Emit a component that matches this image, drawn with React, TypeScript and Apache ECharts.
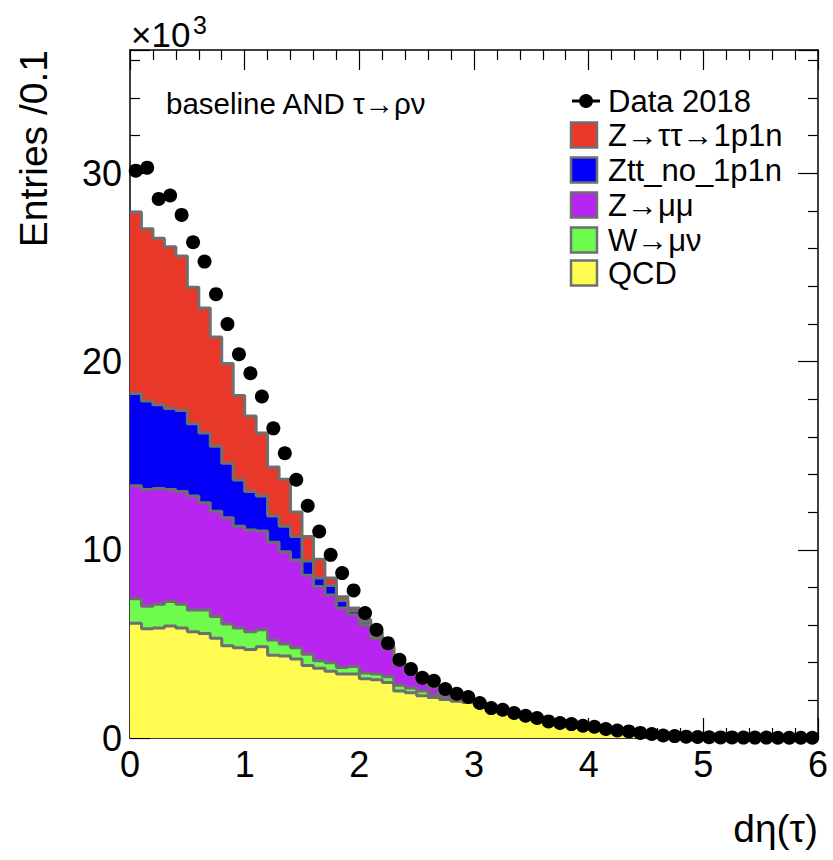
import React, { useEffect, useRef } from "react";
import * as echarts from "echarts";

// ---------- data (values in thousands of entries, 60 bins of width 0.1) ----------
const BIN_WIDTH = 0.1;
const N_BINS = 60;
const xTickLabels = ["0", "1", "2", "3", "4", "5", "6"];
const yTickLabels = ["0", "10", "20", "30"];

const data2018 = [
  30.14, 30.3, 28.64, 28.82, 27.79, 26.34, 25.31, 23.58, 21.99, 20.39,
  19.38, 18.14, 16.45, 15.13, 13.72, 12.34, 10.97, 9.73, 8.76, 7.84,
  6.64, 5.75, 5.04, 4.16, 3.66, 3.2, 3.04, 2.6, 2.35, 2.18,
  1.86, 1.59, 1.5, 1.33, 1.18, 1.06, 0.88, 0.8, 0.74, 0.65,
  0.6, 0.48, 0.4, 0.35, 0.27, 0.21, 0.13, 0.1, 0.07, 0.05,
  0.04, 0.03, 0.03, 0.02, 0.02, 0.02, 0.01, 0.01, 0.01, 0.01,
];

const qcd = [
  6.1, 5.8, 5.85, 5.95, 5.85, 5.65, 5.55, 5.3, 4.9, 4.8,
  4.7, 4.85, 4.4, 4.35, 4.2, 3.85, 3.7, 3.55, 3.4, 3.4,
  3.15, 3.1, 2.95, 2.5, 2.4, 2.25, 2.15, 2.05, 1.95, 1.88,
  1.8, 1.55, 1.42, 1.27, 1.12, 1.0, 0.85, 0.76, 0.68, 0.58,
  0.52, 0.4, 0.33, 0.25, 0.18, 0.11, 0.07, 0.04, 0.03, 0.02,
  0.01, 0.01, 0.01, 0, 0, 0, 0, 0, 0, 0,
];

const wmunu = [
  1.3, 1.2, 1.25, 1.3, 1.25, 1.15, 1.25, 1.15, 1.15, 1.05,
  0.95, 0.9, 0.8, 0.65, 0.6, 0.6, 0.4, 0.45, 0.35, 0.4,
  0.3, 0.3, 0.3, 0.3, 0.25, 0.25, 0.15, 0.1, 0.1, 0.07,
  0.05, 0.04, 0.03, 0.03, 0.03, 0.02, 0.02, 0.02, 0.02, 0.01,
  0.01, 0.01, 0.01, 0, 0, 0, 0, 0, 0, 0,
  0, 0, 0, 0, 0, 0, 0, 0, 0, 0,
];

const zmumu = [
  6.0, 6.2, 6.15, 5.95, 6.0, 6.05, 5.7, 5.6, 5.65, 5.4,
  5.4, 5.25, 5.2, 4.9, 4.65, 4.2, 3.95, 3.6, 3.15, 2.75,
  2.55, 1.9, 1.55, 1.1, 0.8, 0.5, 0.4, 0.27, 0.15, 0.1,
  0.05, 0.04, 0.03, 0.03, 0.02, 0.02, 0.02, 0.01, 0.01, 0,
  0, 0, 0, 0, 0, 0, 0, 0, 0, 0,
  0, 0, 0, 0, 0, 0, 0, 0, 0, 0,
];

const zttNo1p1n = [
  4.9, 4.7, 4.45, 4.3, 4.3, 3.85, 3.7, 3.45, 2.9, 2.45,
  2.05, 1.85, 1.4, 1.35, 1.25, 0.75, 0.45, 0.5, 0.4, 0.2,
  0.15, 0.1, 0.05, 0.05, 0.05, 0.02, 0.02, 0.01, 0.01, 0.01,
  0.01, 0.01, 0, 0, 0, 0, 0, 0, 0, 0,
  0, 0, 0, 0, 0, 0, 0, 0, 0, 0,
  0, 0, 0, 0, 0, 0, 0, 0, 0, 0,
];

const ztt1p1n = [
  9.65, 9.15, 8.85, 8.6, 8.2, 7.25, 6.65, 5.8, 5.3, 4.5,
  4.0, 3.35, 2.6, 2.5, 1.3, 1.3, 1.0, 0.4, 0.2, 0.15,
  0.15, 0.2, 0.05, 0.05, 0.05, 0.03, 0.03, 0.02, 0.01, 0.01,
  0.01, 0.01, 0, 0, 0, 0, 0, 0, 0, 0,
  0, 0, 0, 0, 0, 0, 0, 0, 0, 0,
  0, 0, 0, 0, 0, 0, 0, 0, 0, 0,
];

const processNames = ["QCD", "W\u2192\u03bc\u03bd", "Z\u2192\u03bc\u03bc", "Ztt_no_1p1n", "Z\u2192\u03c4\u03c4\u21921p1n"];
const processValues = [qcd, wmunu, zmumu, zttNo1p1n, ztt1p1n];
const processColors = ["#fffb50", "#6efb4e", "#b925f0", "#0400f8", "#e8382a"];
const legendOrder = [4, 3, 2, 1, 0];

const FONT = "Liberation Sans, Arial, Helvetica, sans-serif";
const OUTLINE = "#6f6f6f";

export default function App() {
  const ref = useRef<HTMLDivElement>(null);

  useEffect(() => {
    if (!ref.current) return;
    const chart = echarts.init(ref.current, null, { renderer: "svg" });

    const edges = Array.from({ length: N_BINS + 1 }, (_, i) => +(i * BIN_WIDTH).toFixed(2));

    // cumulative stacks (THStack style: each drawn from zero, top-most first)
    const cumulative: number[][] = [];
    processValues.forEach((vals, p) => {
      cumulative.push(vals.map((v, i) => +(v + (p > 0 ? cumulative[p - 1][i] : 0)).toFixed(3)));
    });

    const stepData = (vals: number[]) => [
      ...vals.map((v, i) => [edges[i], v]),
      [edges[N_BINS], vals[N_BINS - 1]],
    ];

    const stackSeries = [4, 3, 2, 1, 0].map((p) => ({
      name: processNames[p],
      type: "line",
      step: "end",
      data: stepData(cumulative[p]),
      symbol: "none",
      showSymbol: false,
      silent: true,
      z: 2,
      lineStyle: { color: OUTLINE, width: 3 },
      areaStyle: { color: processColors[p], opacity: 1, origin: "start" },
    }));

    const dataSeries = {
      name: "Data 2018",
      type: "scatter",
      data: data2018.map((v, i) => [+((i + 0.5) * BIN_WIDTH).toFixed(3), v]),
      symbol: "circle",
      symbolSize: 14,
      itemStyle: { color: "#000", opacity: 1 },
      clip: false,
      z: 5,
      silent: true,
    };

    const axisCommon = {
      type: "value",
      axisLine: { show: true, onZero: false, lineStyle: { color: "#000", width: 1.5 } },
      axisTick: { show: true, inside: true, length: 20, lineStyle: { color: "#000", width: 1.2 } },
      minorTick: { show: true, splitNumber: 5, length: 10, lineStyle: { color: "#000", width: 1.2 } },
      splitLine: { show: false },
      minorSplitLine: { show: false },
    };

    const xLabelFmt = (v: number) => {
      const idx = Math.round(v);
      return Math.abs(v - idx) < 1e-6 && xTickLabels[idx] !== undefined ? xTickLabels[idx] : "";
    };
    const yLabelFmt = (v: number) => {
      const idx = Math.round(v / 10);
      return Math.abs(v - idx * 10) < 1e-6 && yTickLabels[idx] !== undefined ? yTickLabels[idx] : "";
    };

    const textStyle = (text: string, fontSize: number, align: string, vAlign: string) => ({
      text,
      fontSize,
      fontFamily: FONT,
      fill: "#000",
      align,
      verticalAlign: vAlign,
      textAlign: align,
      textVerticalAlign: vAlign,
    });

    const legendRowsY = [101, 135, 170, 205, 240, 273];
    const legendGraphics: any[] = [
      {
        type: "line",
        shape: { x1: 572, y1: legendRowsY[0], x2: 600, y2: legendRowsY[0] },
        style: { stroke: "#000", lineWidth: 3 },
        silent: true,
      },
      {
        type: "circle",
        shape: { cx: 586, cy: legendRowsY[0], r: 7 },
        style: { fill: "#000" },
        silent: true,
      },
      {
        type: "text",
        x: 608,
        y: legendRowsY[0],
        style: textStyle("Data 2018", 31, "left", "middle"),
        silent: true,
      },
    ];
    legendOrder.forEach((p, k) => {
      const cy = legendRowsY[k + 1];
      legendGraphics.push({
        type: "rect",
        shape: { x: 571, y: cy - 12.5, width: 26, height: 25 },
        style: { fill: processColors[p], stroke: OUTLINE, lineWidth: 2.5 },
        silent: true,
      });
      legendGraphics.push({
        type: "text",
        x: 608,
        y: cy,
        style: textStyle(processNames[p], 31, "left", "middle"),
        silent: true,
      });
    });

    const option: any = {
      animation: false,
      backgroundColor: "#fff",
      grid: { left: 130, right: 15, top: 50, bottom: 122, containLabel: false },
      xAxis: [
        {
          ...axisCommon,
          min: 0,
          max: 6,
          interval: 1,
          position: "bottom",
          axisLabel: { show: true, formatter: xLabelFmt, fontSize: 36, fontFamily: FONT, color: "#000", margin: 8 },
        },
        {
          ...axisCommon,
          min: 0,
          max: 6,
          interval: 1,
          position: "top",
          axisLabel: { show: false },
        },
      ],
      yAxis: [
        {
          ...axisCommon,
          min: 0,
          max: 36.55,
          interval: 10,
          position: "left",
          axisLabel: { show: true, formatter: yLabelFmt, showMaxLabel: false, fontSize: 36, fontFamily: FONT, color: "#000", margin: 8 },
        },
        {
          ...axisCommon,
          min: 0,
          max: 36.55,
          interval: 10,
          position: "right",
          axisLabel: { show: false },
        },
      ],
      series: [...stackSeries, dataSeries],
      graphic: [
        {
          type: "text",
          x: 131,
          y: 52,
          style: textStyle("\u00d710", 35, "left", "bottom"),
          silent: true,
        },
        {
          type: "text",
          x: 193,
          y: 37,
          style: textStyle("3", 25, "left", "bottom"),
          silent: true,
        },
        {
          type: "text",
          x: 33,
          y: 50,
          rotation: Math.PI / 2,
          style: textStyle("Entries /0.1", 39, "right", "middle"),
          silent: true,
        },
        {
          type: "text",
          x: 818,
          y: 828,
          style: textStyle("d\u03b7(\u03c4)", 39, "right", "middle"),
          silent: true,
        },
        {
          type: "text",
          x: 166,
          y: 103,
          style: textStyle("baseline AND \u03c4\u2192\u03c1\u03bd", 29.5, "left", "middle"),
          silent: true,
        },
        ...legendGraphics,
      ],
    };

    chart.setOption(option);
    return () => chart.dispose();
  }, []);

  return (
    <div
      ref={ref}
      style={{ position: "absolute", left: 0, top: 0, width: 833, height: 860, background: "#fff" }}
    />
  );
}
